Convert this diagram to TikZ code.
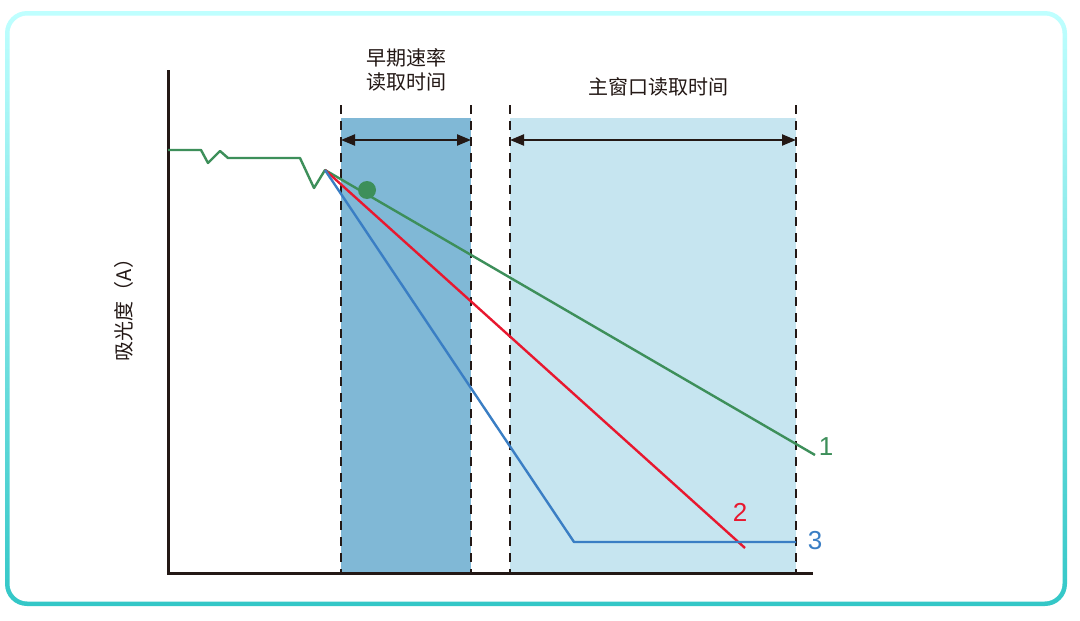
\documentclass[tikz,border=0pt]{standalone}
\usepackage{fontspec}
\newfontfamily\cjk{Noto Sans CJK SC}
\setmainfont{Liberation Sans}
\usetikzlibrary{arrows.meta}
\definecolor{ax}{HTML}{231815}
\definecolor{gr}{HTML}{3D8F5A}
\definecolor{rd}{HTML}{E8182F}
\definecolor{bl}{HTML}{3A7EC4}
\definecolor{dband}{HTML}{80B8D6}
\definecolor{lband}{HTML}{C6E5F0}
\begin{document}
\begin{tikzpicture}[x=1pt,y=-1pt,
  dl/.style={ax,line width=2.5pt,dash pattern=on 9pt off 7pt},
  curve/.style={line width=2.4pt,line join=round},
  lbl/.style={font=\cjk\fontsize{20}{24}\selectfont,align=center,text=ax},
  num/.style={font=\fontsize{26}{28}\selectfont}]
\useasboundingbox (0,0) rectangle (1080,621);
\shade[top color=cyan!25!white,bottom color=cyan!45!teal!80!white,rounded corners=22pt] (5,11) rectangle (1067,606);
\fill[white,rounded corners=18pt] (9.5,15.5) rectangle (1062.5,601.5);
\fill[dband] (341,118) rectangle (471,573);
\fill[lband] (510,118) rectangle (796,573);
\foreach \x/\n in {341/a,471/b,510/c,796/d}{
  \coordinate (t\n) at (\x,105); \coordinate (b\n) at (\x,573);
  \draw[dl] (t\n) -- (b\n);
  \coordinate (m\n) at (\x,140);}
\draw[ax,line width=2.2pt,{Triangle[length=14pt,width=11pt]}-{Triangle[length=14pt,width=11pt]}] (ma) -- (mb);
\draw[ax,line width=2.2pt,{Triangle[length=14pt,width=11pt]}-{Triangle[length=14pt,width=11pt]}] (mc) -- (md);
\coordinate (o) at (168,573);
\coordinate (yt) at (168,70);
\coordinate (xr) at (813,573);
\draw[ax,line width=3pt] (yt) -- (o) -- (xr);
\coordinate (s) at (325,170);
\draw[gr,curve] (168,150) -- (201,150) -- (208,163) -- (220,151) -- (228,158) -- (300,158) -- (314,188) -- (s) -- (815,455);
\draw[rd,curve] (s) -- (745,548);
\draw[bl,curve] (s) -- (574,542) -- (796,542);
\fill[gr] (367,190) circle (9);
\node[num,text=gr] (n1) at (826,447) {1};
\node[num,text=rd] (n2) at (740,512) {2};
\node[num,text=bl] (n3) at (815,541) {3};
\node[lbl] (l1) at (406,70) {早期速率\\读取时间};
\node[lbl] (l2) at (658,87) {主窗口读取时间};
\node[lbl,rotate=90] (ya) at (124,305) {吸光度（A）};
\end{tikzpicture}
\end{document}
